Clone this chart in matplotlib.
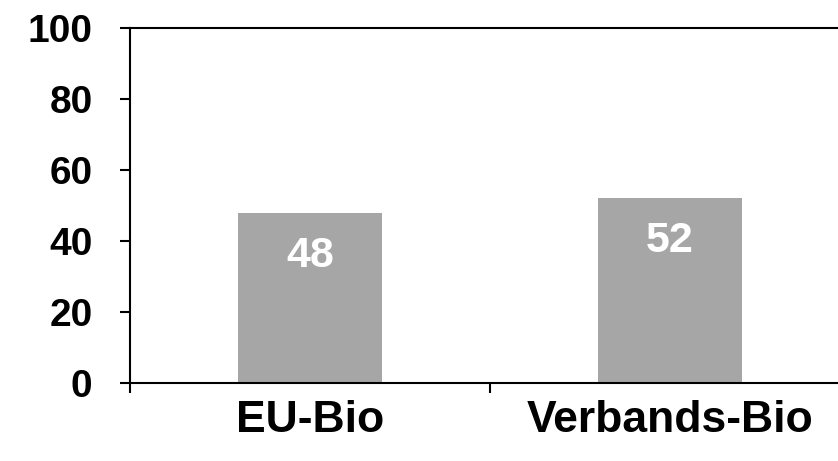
import matplotlib
matplotlib.use('Agg')
import matplotlib.pyplot as plt

# Daten
kategorien = ['EU-Bio', 'Verbands-Bio']
werte = [48, 52]
y_ticks = [0, 20, 40, 60, 80, 100]

plt.rcParams['font.family'] = ['Liberation Sans', 'DejaVu Sans']
plt.rcParams['font.weight'] = 'bold'

fig = plt.figure(figsize=(8.38, 4.61), dpi=100)
ax = fig.add_axes([130/838, 78/461, 720/838, 355/461])

x = list(range(len(kategorien)))
ax.bar(x, werte, width=0.4, color='#a6a6a6', zorder=2)

for xi, w in zip(x, werte):
    ax.text(xi, w - 6.5, str(w), ha='center', va='top', color='white',
            fontsize=31, fontweight='bold')

ax.set_xlim(-0.5, 1.5)
ax.set_ylim(0, 100)
ax.set_yticks(y_ticks)
ax.set_yticklabels([str(t) for t in y_ticks], fontsize=28, fontweight='bold')

ax.set_xticks(x)
ax.set_xticklabels(kategorien, fontsize=32, fontweight='bold')
ax.set_xticks([-0.5, 0.5, 1.5], minor=True)
ax.tick_params(axis='x', which='major', length=0, pad=12)
ax.tick_params(axis='x', which='minor', length=7, width=1.5, direction='out')
ax.tick_params(axis='y', length=7, width=1.5, direction='out', pad=20)

for s in ax.spines.values():
    s.set_linewidth(1.5)

fig.savefig('out.png', dpi=100)
